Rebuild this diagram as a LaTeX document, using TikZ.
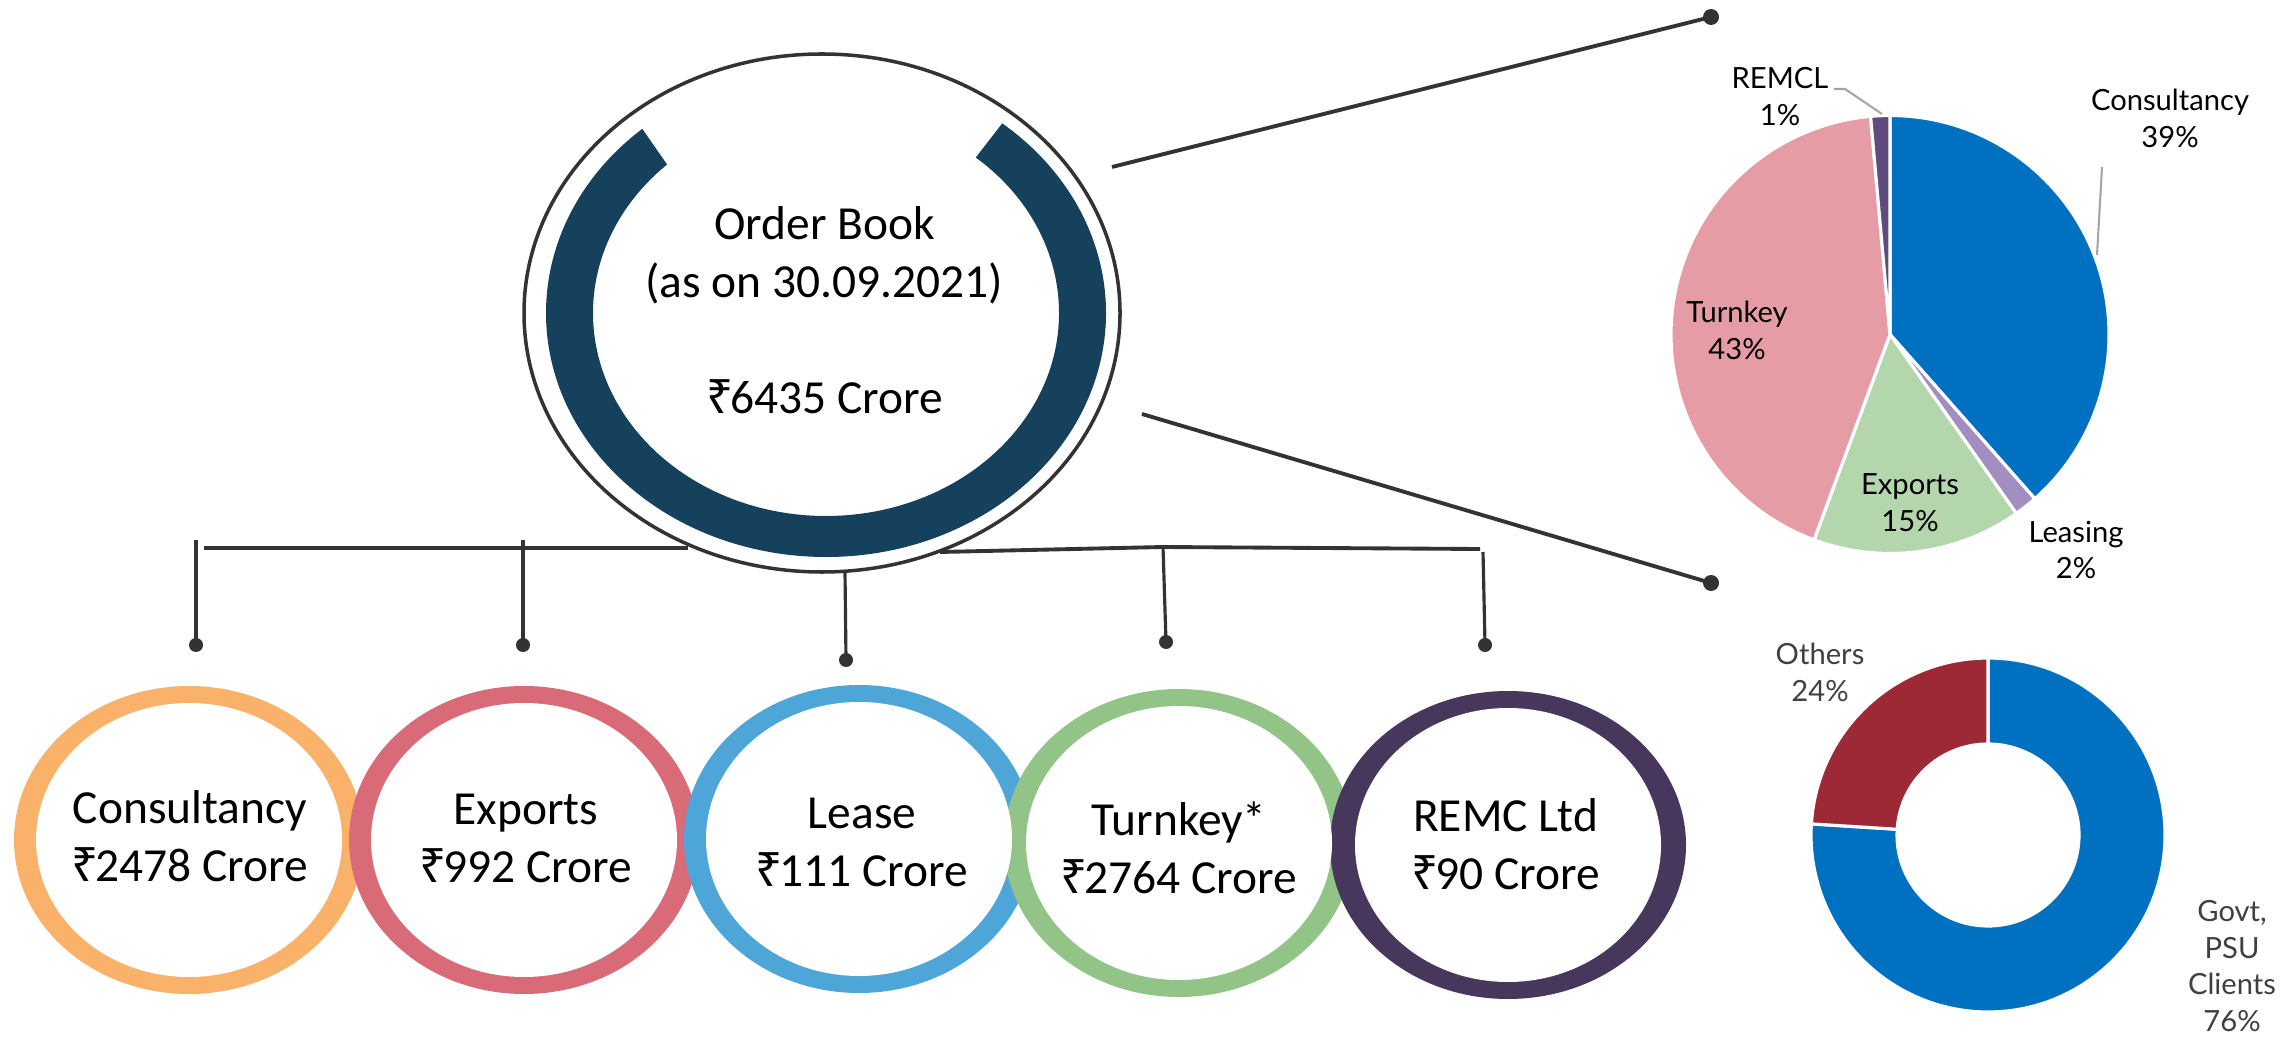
\documentclass[tikz,border=0pt]{standalone}
\usepackage{fontspec}
\setmainfont{Carlito}
\newfontfamily\chartfont{Lato}
\newfontfamily\rupfont{Noto Sans}
\usetikzlibrary{shapes.geometric, calc}
\definecolor{obnavy}{RGB}{22, 65, 92}
\definecolor{linegray}{RGB}{51, 51, 51}
\definecolor{consorange}{RGB}{250, 178, 106}
\definecolor{exprose}{RGB}{217, 106, 119}
\definecolor{leaseblue}{RGB}{78, 166, 216}
\definecolor{turngreen}{RGB}{145, 196, 134}
\definecolor{remcplum}{RGB}{72, 55, 92}
\definecolor{pieblue}{RGB}{0, 112, 192}
\definecolor{pielilac}{RGB}{163, 142, 194}
\definecolor{piegreen}{RGB}{180, 214, 172}
\definecolor{piepink}{RGB}{229, 156, 164}
\definecolor{pieplum}{RGB}{95, 75, 125}
\definecolor{piered}{RGB}{158, 41, 54}
\definecolor{leadgray}{RGB}{166, 166, 166}
\definecolor{labelgray}{RGB}{64, 64, 64}
\newcommand{\rupee}{{\rupfont ₹}\kern-0.07em}

\begin{document}
\begin{tikzpicture}[
  bus/.style={draw=linegray, line width=1.1pt},
  stem/.style={draw=linegray, line width=0.9pt},
  feed/.style={draw=linegray, line width=1.1pt},
  lead/.style={draw=leadgray, line width=0.6pt},
  bigtxt/.style={font=\fontsize{13.5}{16.5}\selectfont, align=center, inner sep=0pt},
  hole/.style={ellipse, fill=white, inner sep=0pt, minimum width=3.06cm, minimum height=2.74cm},
  pielbl/.style={font=\chartfont\fontsize{8.3}{10.5}\selectfont, align=center, inner sep=0pt},
  slice/.style={draw=white, line width=0.9pt},
]
\useasboundingbox (0,0) rectangle (22.84,10.36);

% Order book ellipse
\node[ellipse, draw=linegray, line width=1pt, minimum width=5.96cm, minimum height=5.18cm] (ob) at (8.22,7.23) {};
\coordinate (obc) at (8.26,7.23);
\fill[obnavy] ($(obc)+(131:2.80 and 2.44)$) arc[start angle=131, end angle=411, x radius=2.80, y radius=2.44]
  -- ($(obc)+(410:2.33 and 2.03)$) arc[start angle=410, end angle=133, x radius=2.33, y radius=2.03] -- cycle;
\node[bigtxt] (obtxt) at (8.245,7.26) {Order Book\\(as on 30.09.2021)\\[16.5pt]\rupee6435 Crore};

% Segment rings
\fill[consorange] (1.89,1.96) ellipse[x radius=1.75, y radius=1.54];
\fill[exprose] (5.24,1.96) ellipse[x radius=1.75, y radius=1.54];
\fill[leaseblue] (8.59,1.97) ellipse[x radius=1.75, y radius=1.54];
\fill[turngreen] (11.79,1.93) ellipse[x radius=1.75, y radius=1.54];
\fill[remcplum] (15.08,1.91) ellipse[x radius=1.78, y radius=1.54];
\node[hole] (cons) at (1.89,1.96) {};
\node[hole] (expo) at (5.24,1.96) {};
\node[hole] (leas) at (8.59,1.97) {};
\node[hole] (turn) at (11.79,1.93) {};
\node[hole] (remc) at (15.08,1.91) {};
\node[bigtxt] (consT) at (1.90,1.995) {Consultancy\\\rupee2478 Crore};
\node[bigtxt] (expoT) at (5.26,1.975) {Exports\\\rupee992 Crore};
\node[bigtxt] (leasT) at (8.62,1.935) {Lease\\\rupee111 Crore};
\node[bigtxt] (turnT) at (11.79,1.885) {Turnkey*\\\rupee2764 Crore};
\node[bigtxt] (remcT) at (15.055,1.92) {REMC Ltd\\\rupee90 Crore};

% Branch tips and bus points
\coordinate (tipCons) at (1.96,3.91);
\coordinate (tipExpo) at (5.23,3.91);
\coordinate (tipLeas) at (8.46,3.76);
\coordinate (tipTurn) at (11.66,3.94);
\coordinate (tipRemc) at (14.85,3.91);
\coordinate (busL) at (2.04,4.88);
\coordinate (busLe) at (6.88,4.88);
\coordinate (busR) at (9.40,4.84);
\coordinate (busRm) at (11.63,4.89);
\coordinate (busRe) at (14.80,4.87);
\coordinate (stemCons) at (1.96,4.96);
\coordinate (stemExpo) at (5.23,4.96);
\coordinate (stemLeas) at (8.45,4.64);
\coordinate (stemRemc) at (14.83,4.84);

% Tree
\draw[bus] (busL) -- (busLe);
\draw[bus] (busR) -- (busRm) -- (busRe);
\draw[stem] (stemCons) -- (tipCons);
\draw[stem] (stemExpo) -- (tipExpo);
\draw[stem] (stemLeas) -- (tipLeas);
\draw[stem] (busRm) -- (tipTurn);
\draw[stem] (stemRemc) -- (tipRemc);
\fill[linegray] (tipCons) circle (0.07);
\fill[linegray] (tipExpo) circle (0.07);
\fill[linegray] (tipLeas) circle (0.07);
\fill[linegray] (tipTurn) circle (0.07);
\fill[linegray] (tipRemc) circle (0.07);

% Feeds to the charts
\coordinate (feedU) at (11.12,8.69);
\coordinate (feedD) at (11.42,6.22);
\coordinate (pieU) at (17.11,10.19);
\coordinate (pieD) at (17.11,4.53);
\draw[feed] (feedU) -- (pieU);
\draw[feed] (feedD) -- (pieD);
\fill[linegray] (pieU) circle (0.08);
\fill[linegray] (pieD) circle (0.08);

% Segment pie
\coordinate (pc) at (18.90,7.015);
\fill[pieblue, slice] (pc) -- ++(90:2.19) arc[start angle=90, end angle=-48.6, radius=2.19] -- cycle;
\fill[pielilac, slice] (pc) -- ++(-48.6:2.19) arc[start angle=-48.6, end angle=-54.8, radius=2.19] -- cycle;
\fill[piegreen, slice] (pc) -- ++(-54.8:2.19) arc[start angle=-54.8, end angle=-110.3, radius=2.19] -- cycle;
\fill[piepink, slice] (pc) -- ++(-110.3:2.19) arc[start angle=-110.3, end angle=-264.9, radius=2.19] -- cycle;
\fill[pieplum, slice] (pc) -- ++(-264.9:2.19) arc[start angle=-264.9, end angle=-270, radius=2.19] -- cycle;

\node[pielbl] (lbRemc) at (17.80,9.39) {REMCL\\1\%};
\node[pielbl] (lbCons) at (21.70,9.175) {Consultancy\\39\%};
\node[pielbl] (lbTurn) at (17.37,7.055) {Turnkey\\43\%};
\node[pielbl] (lbExpo) at (19.10,5.33) {Exports\\15\%};
\node[pielbl] (lbLeas) at (20.76,4.86) {Leasing\\2\%};
\coordinate (ldRemc) at (18.34,9.47);
\coordinate (ldRemcK) at (18.45,9.47);
\coordinate (ldRemcE) at (18.82,9.22);
\coordinate (ldCons) at (21.02,8.69);
\coordinate (ldConsE) at (20.97,7.81);
\draw[lead] (ldRemc) -- (ldRemcK) -- (ldRemcE);
\draw[lead] (ldCons) -- (ldConsE);

% Client donut
\coordinate (dc) at (19.88,2.01);
\fill[pieblue, slice] ($(dc)+(90:1.77)$) arc[start angle=90, end angle=-183.6, radius=1.77]
  -- ($(dc)+(-183.6:0.91)$) arc[start angle=-183.6, end angle=90, radius=0.91] -- cycle;
\fill[piered, slice] ($(dc)+(176.4:1.77)$) arc[start angle=176.4, end angle=90, radius=1.77]
  -- ($(dc)+(90:0.91)$) arc[start angle=90, end angle=176.4, radius=0.91] -- cycle;

\node[pielbl, labelgray] (lbOth) at (18.20,3.64) {Others\\24\%};
\node[pielbl, labelgray] (lbGovt) at (22.32,0.70) {Govt,\\PSU\\Clients\\76\%};
\end{tikzpicture}
\end{document}
